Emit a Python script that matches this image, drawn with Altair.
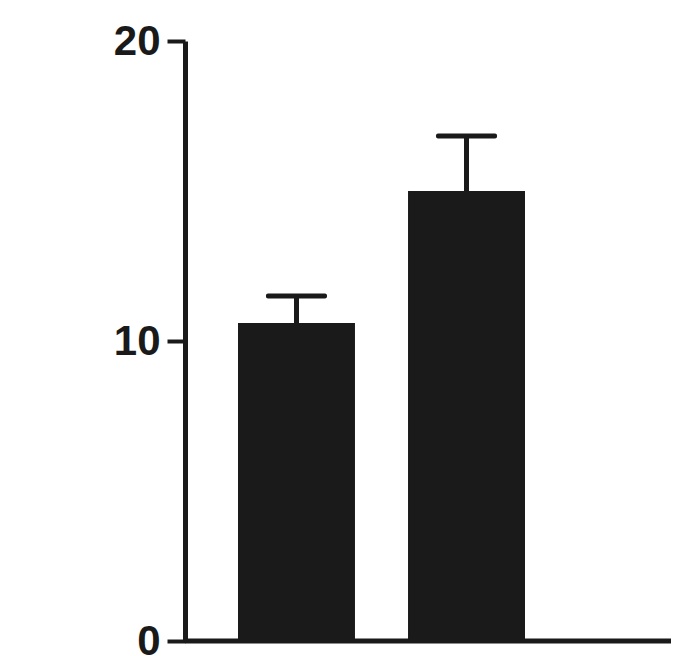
import altair as alt
import pandas as pd

groups = ["A", "B"]
means = [10.6, 15.0]
errors = [0.9, 1.83]

df = pd.DataFrame({"group": groups, "mean": means, "err": errors})
df["upper"] = df["mean"] + df["err"]

ink = "#1a1a1a"
W, H = 486, 600

xscale = alt.Scale(domain=groups, range=[53, 340], paddingInner=0.312, paddingOuter=0)
yscale = alt.Scale(domain=[0, 20], nice=False, zero=True)

yaxis = alt.Axis(
    values=[0, 10, 20], grid=False, title=None,
    domainColor=ink, domainWidth=5, tickColor=ink, tickWidth=4, tickSize=18,
    labelFont="Liberation Sans", labelFontWeight="bold", labelFontSize=42,
    labelColor=ink, labelPadding=7,
)

base = alt.Chart(df)

bars = base.mark_bar(color=ink).encode(
    x=alt.X("group:N", scale=xscale, axis=None, sort=groups),
    y=alt.Y("mean:Q", scale=yscale, axis=yaxis),
)

stem = base.mark_rule(color=ink, strokeWidth=5).encode(
    x=alt.X("group:N", scale=xscale, axis=None, sort=groups),
    y=alt.Y("mean:Q", scale=yscale),
    y2="upper:Q",
)

cap = base.mark_tick(color=ink, size=61, thickness=5, cornerRadius=2, opacity=1).encode(
    x=alt.X("group:N", scale=xscale, axis=None, sort=groups),
    y=alt.Y("upper:Q", scale=yscale),
)

xline = alt.Chart(pd.DataFrame({"v": [0]})).mark_rule(color=ink, strokeWidth=5).encode(
    y=alt.Y("v:Q", scale=yscale),
    x=alt.value(0),
    x2=alt.value(W + 20),
)

chart = alt.layer(xline, bars, stem, cap).properties(
    width=W, height=H,
    autosize=alt.AutoSizeParams(type="none"),
    padding={"left": 177, "top": 33, "right": 0, "bottom": 15},
    background="white",
).configure_view(stroke=None)

chart.save("out.html", embed_options={"renderer": "svg", "actions": False})
